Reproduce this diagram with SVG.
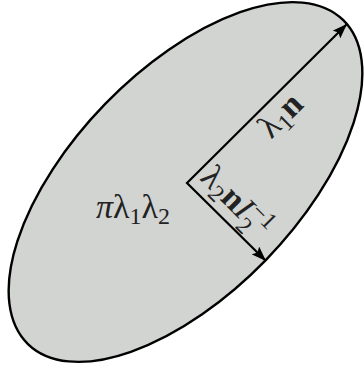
<svg xmlns="http://www.w3.org/2000/svg" width="364" height="371" viewBox="0 0 364 371">
<defs>
<style>
.lbl{font-family:"Liberation Serif","DejaVu Serif",serif;font-size:34px;fill:#222}
.it{font-style:italic}
.bf{font-weight:bold}
.sb{font-size:24px}
.conn{fill:none;stroke:#000;stroke-width:2.2;stroke-linejoin:miter}
</style>
<marker id="ah" viewBox="0 0 15 11" refX="15" refY="5.5" markerWidth="15" markerHeight="11" markerUnits="userSpaceOnUse" orient="auto-start-reverse">
<path d="M0,0 L15,5.5 L0,11 L3,5.5 Z" fill="#000"/>
</marker>
</defs>
<rect width="364" height="371" fill="#fff"/>
<g id="ellipse">
<ellipse cx="185.5" cy="182" rx="226" ry="112" transform="rotate(-45.8 185.5 182)" fill="#d2d4d1" stroke="#000" stroke-width="2.4"/>
</g>
<g id="connectors">
<path class="conn" d="M347,24 L187,183 L266,261" marker-start="url(#ah)" marker-end="url(#ah)"/>
</g>
<g id="label-area">
<text class="lbl" x="96" y="218"><tspan class="it">π</tspan><tspan>λ</tspan><tspan class="sb" dy="6">1</tspan><tspan dy="-6">λ</tspan><tspan class="sb" dy="6">2</tspan></text>
</g>
<g id="label-major">
<text class="lbl" transform="translate(288 123) rotate(-45)" text-anchor="middle"><tspan>λ</tspan><tspan class="sb" dy="6">1</tspan><tspan class="bf" dy="-6">n</tspan></text>
</g>
<g id="label-minor">
<text class="lbl" transform="translate(199 179) rotate(45)"><tspan>λ</tspan><tspan class="sb" dy="6">2</tspan><tspan class="bf" dy="-6">n</tspan><tspan class="it">I</tspan><tspan class="sb" dy="9">2</tspan><tspan class="sb" dx="-11" dy="-21">−1</tspan></text>
</g>
</svg>
